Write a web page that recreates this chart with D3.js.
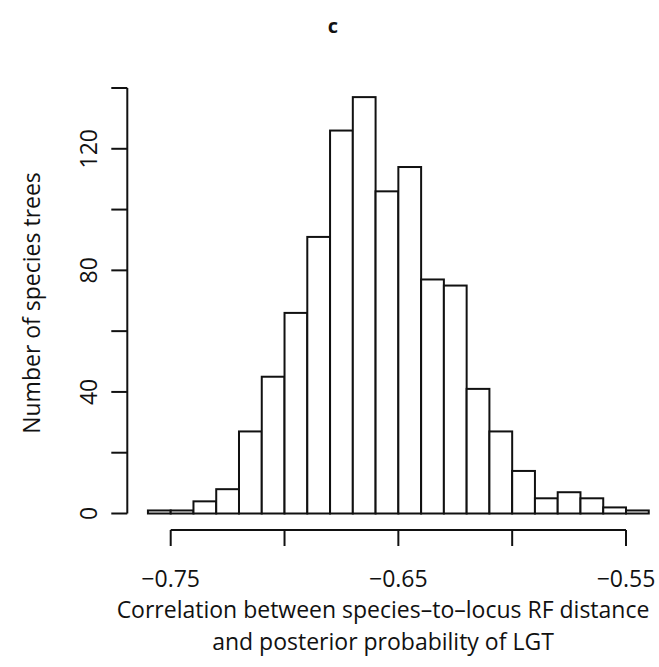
<!DOCTYPE html>
<html>
<head>
<meta charset="utf-8">
<script src="https://cdn.jsdelivr.net/npm/d3@7"></script>
<style>
  html, body { margin: 0; padding: 0; background: #fff; }
  text { font-family: "Open Sans", "Noto Sans", sans-serif; fill: #111; }
</style>
</head>
<body>
<div id="chart"></div>
<script>
// histogram of correlations, bin width 0.01
const binStarts = [-0.76, -0.75, -0.74, -0.73, -0.72, -0.71, -0.70, -0.69, -0.68, -0.67, -0.66,
                   -0.65, -0.64, -0.63, -0.62, -0.61, -0.60, -0.59, -0.58, -0.57, -0.56, -0.55];
const counts = [1, 1, 4, 8, 27, 45, 66, 91, 126, 137, 106,
                114, 77, 75, 41, 27, 14, 5, 7, 5, 2, 1];
const binWidth = 0.01;
const xTicks = [-0.75, -0.70, -0.65, -0.60, -0.55];
const xTickLabels = ["\u22120.75", "", "\u22120.65", "", "\u22120.55"];
const yTicks = [0, 20, 40, 60, 80, 100, 120, 140];
const yTickLabels = ["0", "", "40", "", "80", "", "120", ""];
const xTitle = ["Correlation between species\u2013to\u2013locus RF distance",
                "and posterior probability of LGT"];

const width = 659, height = 667;
const fontSize = 23;

const svg = d3.select("#chart").append("svg")
    .attr("width", width)
    .attr("height", height);

const x = d3.scaleLinear().domain([-0.75, -0.55]).range([170.7, 626]);
const y = d3.scaleLinear().domain([0, 140]).range([513.5, 88]);

// bars
svg.append("g")
    .attr("fill", "white")
    .attr("stroke", "#111")
    .attr("stroke-width", 2)
    .selectAll("rect")
    .data(counts)
    .join("rect")
    .attr("x", (d, i) => x(binStarts[i]))
    .attr("width", (d, i) => x(binStarts[i] + binWidth) - x(binStarts[i]))
    .attr("y", d => y(d))
    .attr("height", d => y(0) - y(d));

// x axis (R style: line only between first and last tick)
const xAxis = svg.append("g").attr("transform", "translate(0,530)");
xAxis.append("line")
    .attr("x1", x(xTicks[0])).attr("x2", x(xTicks[xTicks.length - 1]))
    .attr("stroke", "#111").attr("stroke-width", 2);
xAxis.selectAll(".tick")
    .data(xTicks)
    .join("line")
    .attr("x1", d => x(d)).attr("x2", d => x(d))
    .attr("y1", 0).attr("y2", 16)
    .attr("stroke", "#111").attr("stroke-width", 2);
xAxis.selectAll("text")
    .data(xTicks)
    .join("text")
    .attr("x", d => x(d))
    .attr("y", 57)
    .attr("text-anchor", "middle")
    .attr("font-size", fontSize)
    .text((d, i) => xTickLabels[i]);

// y axis
const yAxis = svg.append("g").attr("transform", "translate(127.3,0)");
yAxis.append("line")
    .attr("y1", y(yTicks[0])).attr("y2", y(yTicks[yTicks.length - 1]))
    .attr("stroke", "#111").attr("stroke-width", 2);
yAxis.selectAll(".tick")
    .data(yTicks)
    .join("line")
    .attr("y1", d => y(d)).attr("y2", d => y(d))
    .attr("x1", -16).attr("x2", 0)
    .attr("stroke", "#111").attr("stroke-width", 2);
yAxis.selectAll("text")
    .data(yTicks)
    .join("text")
    .attr("transform", d => `translate(-38,${y(d)}) rotate(-90)`)
    .attr("text-anchor", "middle")
    .attr("dy", "0.35em")
    .attr("font-size", fontSize)
    .text((d, i) => yTickLabels[i]);

// titles
svg.append("text")
    .attr("x", 333).attr("y", 33)
    .attr("text-anchor", "middle")
    .attr("font-size", 20)
    .attr("font-weight", "bold")
    .text("c");

svg.append("text")
    .attr("transform", "translate(40,303) rotate(-90)")
    .attr("text-anchor", "middle")
    .attr("font-size", fontSize)
    .text("Number of species trees");

// two-line x title
svg.append("g")
    .attr("text-anchor", "middle")
    .attr("font-size", fontSize)
    .selectAll("text")
    .data(xTitle)
    .join("text")
    .attr("x", 383)
    .attr("y", (d, i) => 618 + i * 32)
    .text(d => d);
</script>
</body>
</html>
